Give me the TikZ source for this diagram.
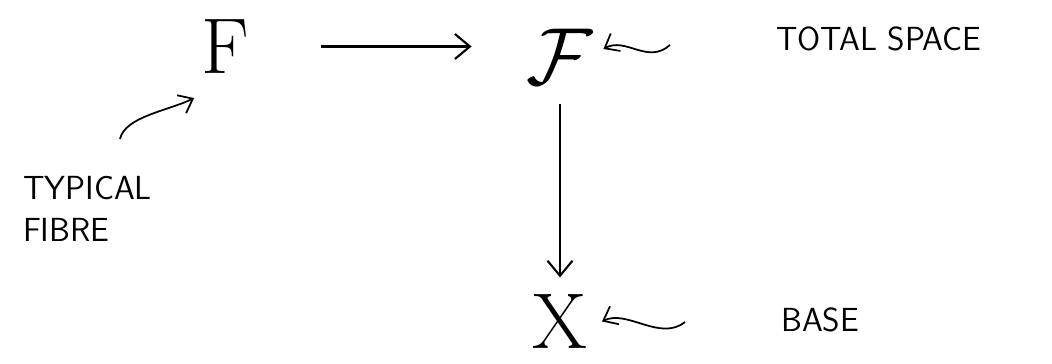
\documentclass[tikz,border=0pt]{standalone}
\usepackage{graphicx}
\usetikzlibrary{arrows.meta, positioning}
\begin{document}
\begin{tikzpicture}[
  obj/.style={inner sep=1pt, font=\rmfamily\fontsize{45}{48}\selectfont},
  lbl/.style={font=\sffamily\fontsize{19}{24}\selectfont, align=left},
  map/.style={-{Straight Barb[length=3mm, width=5mm]}, line width=1.2pt},
  squig/.style={-{Straight Barb[length=2.5mm, width=4mm]}, line width=1pt},
]
\useasboundingbox (0,0) rectangle (21.04,7.28);

% Objects
\node[obj] (fib) at (4.5,6.35) {F};
\node[obj, inner sep=0pt] (tot) at (11.2,6.15) {\scalebox{1.85}{$\mathcal{F}$}};
\node[obj] (base) at (11.2,0.85) {X};

% Labels
\node[lbl, anchor=west] (tsp) at (15.4,6.5) {TOTAL SPACE};
\node[lbl, anchor=west] (bsl) at (15.5,0.88) {BASE};
\node[lbl] (tfl) at (1.75,3.1) {TYPICAL\\FIBRE};

% Maps
\draw[map, shorten <=1.4cm, shorten >=1.1cm] (fib.east) -- (tot.west |- fib.east);
\draw[map, shorten <=0.4cm, shorten >=0.3cm] (tot) -- (base);

% Pointers
\coordinate (tsq) at (13.4,6.38);
\coordinate (bsq) at (13.7,0.84);
\coordinate (fsq) at (2.4,4.5);
\draw[squig] (tsq) .. controls +(-0.45,-0.4) and +(0.45,0.25) .. ([xshift=0.2cm,yshift=0.15cm]tot.east);
\draw[squig] (bsq) .. controls +(-0.5,-0.4) and +(0.5,0.25) .. ([xshift=0.25cm]base.east);
\draw[squig] (fsq) .. controls +(0.1,0.45) and +(-0.5,-0.25) .. ([xshift=-0.1cm,yshift=-0.45cm]fib.south west);
\end{tikzpicture}
\end{document}
